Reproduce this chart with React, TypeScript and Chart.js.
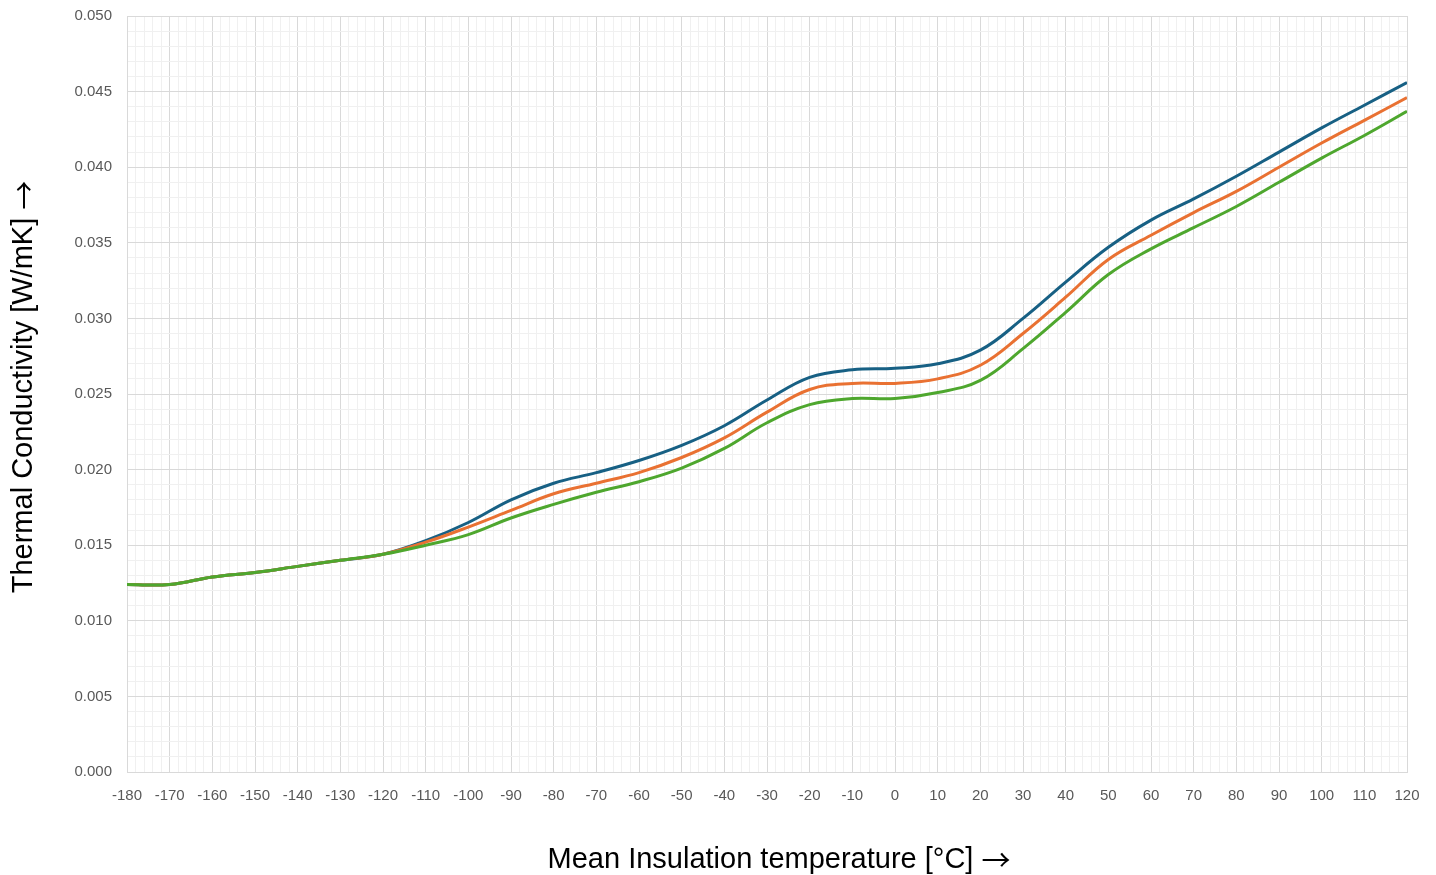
import React, { useEffect, useRef } from "react";
import { Chart, registerables } from "chart.js";

Chart.register(...registerables);

const temperatures = [-180, -170, -160, -150, -140, -130, -120, -110, -100, -90, -80, -70, -60, -50, -40, -30, -20, -10, 0, 10, 20, 30, 40, 50, 60, 70, 80, 90, 100, 110, 120];

const seriesBlue = [0.0124, 0.0124, 0.0129, 0.0132, 0.0136, 0.0140, 0.0144, 0.0153, 0.0165, 0.0180, 0.0191, 0.0198, 0.0206, 0.0216, 0.0229, 0.0246, 0.0261, 0.0266, 0.0267, 0.0270, 0.0279, 0.0300, 0.0324, 0.0347, 0.0365, 0.0379, 0.0394, 0.0410, 0.0426, 0.0441, 0.0456];
const seriesOrange = [0.0124, 0.0124, 0.0129, 0.0132, 0.0136, 0.0140, 0.0144, 0.0152, 0.0162, 0.0173, 0.0184, 0.0191, 0.0198, 0.0208, 0.0221, 0.0238, 0.0253, 0.0257, 0.0257, 0.0260, 0.0269, 0.0290, 0.0314, 0.0339, 0.0355, 0.0370, 0.0384, 0.0400, 0.0416, 0.0431, 0.0446];
const seriesGreen = [0.0124, 0.0124, 0.0129, 0.0132, 0.0136, 0.0140, 0.0144, 0.0150, 0.0157, 0.0168, 0.0177, 0.0185, 0.0192, 0.0201, 0.0214, 0.0231, 0.0243, 0.0247, 0.0247, 0.0251, 0.0259, 0.0280, 0.0304, 0.0329, 0.0346, 0.0360, 0.0374, 0.0390, 0.0406, 0.0421, 0.0437];

const xTitle = "Mean Insulation temperature [°C]";
const yTitle = "Thermal Conductivity [W/mK]";
const arrow = "→";

const FONT = "'Liberation Sans', Arial, sans-serif";
const ARROW_FONT = "'Noto Sans CJK JP', 'DejaVu Sans', sans-serif";
const TITLE_SIZE = 29;

const titlePlugin = {
  id: "axisTitles",
  afterDraw(chart: any) {
    const ctx = chart.ctx as CanvasRenderingContext2D;
    ctx.save();
    ctx.fillStyle = "#000000";
    ctx.textBaseline = "middle";
    ctx.textAlign = "left";
    // X title
    ctx.font = `${TITLE_SIZE}px ${FONT}`;
    const wText = ctx.measureText(xTitle + " ").width;
    ctx.font = `${TITLE_SIZE}px ${ARROW_FONT}`;
    const wArrow = ctx.measureText(arrow).width;
    const startX = 779 - (wText + wArrow) / 2;
    const ty = 860;
    ctx.font = `${TITLE_SIZE}px ${FONT}`;
    ctx.fillText(xTitle + " ", startX, ty);
    ctx.font = `${TITLE_SIZE}px ${ARROW_FONT}`;
    ctx.fillText(arrow, startX + wText, ty);
    // Y title
    ctx.translate(24, 387);
    ctx.rotate(-Math.PI / 2);
    ctx.font = `${TITLE_SIZE}px ${FONT}`;
    const wyText = ctx.measureText(yTitle + " ").width;
    ctx.font = `${TITLE_SIZE}px ${ARROW_FONT}`;
    const wyArrow = ctx.measureText(arrow).width;
    const sy = -(wyText + wyArrow) / 2;
    ctx.font = `${TITLE_SIZE}px ${FONT}`;
    ctx.fillText(yTitle + " ", sy, 0);
    ctx.font = `${TITLE_SIZE}px ${ARROW_FONT}`;
    ctx.fillText(arrow, sy + wyText, 0);
    ctx.restore();
  },
};

export default function App() {
  const canvasRef = useRef<HTMLCanvasElement | null>(null);

  useEffect(() => {
    const canvas = canvasRef.current;
    if (!canvas) return;
    const mk = (arr: number[]) => temperatures.map((t, i) => ({ x: t, y: arr[i] }));
    const ds = (data: number[], color: string) => ({
      data: mk(data),
      borderColor: color,
      backgroundColor: color,
      borderWidth: 3,
      pointRadius: 0,
      tension: 0.4,
      fill: false,
    });
    const chart = new Chart(canvas, {
      type: "line",
      data: {
        datasets: [
          ds(seriesGreen, "#4EA72E"),
          ds(seriesOrange, "#E97132"),
          ds(seriesBlue, "#176084"),
        ],
      },
      plugins: [titlePlugin],
      options: {
        animation: false,
        responsive: false,
        maintainAspectRatio: false,
        layout: { padding: { top: 16, right: 29, left: 0, bottom: 0 } },
        plugins: { legend: { display: false }, tooltip: { enabled: false } },
        scales: {
          x: {
            type: "linear",
            min: -180,
            max: 120,
            afterFit: (s: any) => { s.height = 103; s.paddingLeft = 0; s.paddingRight = 0; },
            border: { color: "#D9D9D9", width: 1 },
            grid: {
              drawTicks: false,
              color: (c: any) => (Math.round(c.tick?.value ?? 0) % 10 === 0 ? "#D9D9D9" : "#F0F0F0"),
              lineWidth: 1,
            },
            ticks: {
              stepSize: 2,
              autoSkip: false,
              maxRotation: 0,
              padding: 15,
              color: "#595959",
              font: { family: FONT, size: 15 },
              callback: (v: any) => (Math.round(v) % 10 === 0 ? String(Math.round(v)) : ""),
            },
          },
          y: {
            type: "linear",
            min: 0,
            max: 0.05,
            afterFit: (s: any) => { s.width = 127; s.paddingTop = 0; s.paddingBottom = 0; },
            border: { color: "#D9D9D9", width: 1 },
            grid: {
              drawTicks: false,
              color: (c: any) => (Math.round((c.tick?.value ?? 0) * 1000) % 5 === 0 ? "#D9D9D9" : "#F0F0F0"),
              lineWidth: 1,
            },
            ticks: {
              stepSize: 0.001,
              autoSkip: false,
              padding: 15,
              color: "#595959",
              font: { family: FONT, size: 15 },
              callback: (v: any) => (Math.round(v * 1000) % 5 === 0 ? Number(v).toFixed(3) : ""),
            },
          },
        },
      },
    });
    return () => chart.destroy();
  }, []);

  return (
    <div style={{ position: "fixed", left: 0, top: 0, width: 1436, height: 875, background: "#fff" }}>
      <canvas ref={canvasRef} width={1436} height={875} style={{ width: 1436, height: 875 }} />
    </div>
  );
}
